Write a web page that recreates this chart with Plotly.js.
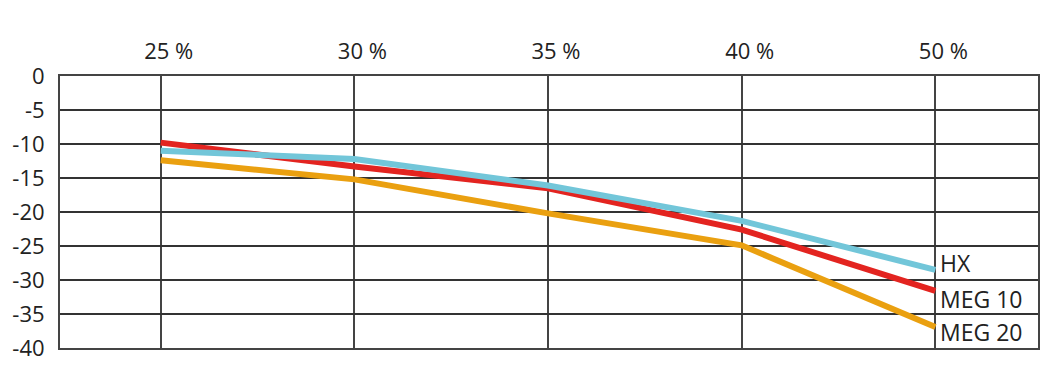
<!DOCTYPE html>
<html>
<head>
<meta charset="utf-8">
<script src="https://cdn.plot.ly/plotly-3.0.1.min.js"></script>
<style>html,body{margin:0;padding:0;background:#fff;}#chart{width:1051px;height:371px;}</style>
</head>
<body>
<div id="chart"></div>
<script>
const categories = ['25 %', '30 %', '35 %', '40 %', '50 %'];
const hx = [-11.0, -12.2, -16.1, -21.3, -28.5];
const meg10 = [-9.8, -13.3, -16.5, -22.6, -31.6];
const meg20 = [-12.4, -15.2, -20.2, -24.9, -36.9];
const seriesNames = ['HX', 'MEG 10', 'MEG 20'];
const yTicks = [0, -5, -10, -15, -20, -25, -30, -35, -40];

const colors = ['#72c6d9', '#e32420', '#eaa010'];
const series = [hx, meg10, meg20];
const labelShift = [7, -8, -5];
const FONT = '"Open Sans", sans-serif';

const traces = [meg20, meg10, hx].map((vals, i) => {
  const idx = 2 - i;
  return {
    x: categories, y: vals, type: 'scatter', mode: 'lines',
    name: seriesNames[idx],
    line: {color: colors[idx], width: 6},
    hoverinfo: 'skip'
  };
});

const annotations = series.map((vals, i) => ({
  x: categories[categories.length - 1], y: vals[vals.length - 1],
  xref: 'x', yref: 'y', text: seriesNames[i], showarrow: false,
  xanchor: 'left', yanchor: 'middle', xshift: 3, yshift: labelShift[i],
  font: {family: FONT, size: 23, color: '#222'}
}));

const layout = {
  width: 1051, height: 371,
  margin: {l: 60, r: 13, t: 76, b: 23},
  paper_bgcolor: '#fff', plot_bgcolor: '#fff',
  showlegend: false,
  font: {family: FONT, size: 22, color: '#222'},
  xaxis: {
    type: 'category', side: 'top', range: [-0.52, 4.53],
    showgrid: true, gridcolor: '#444', gridwidth: 2,
    showline: true, linecolor: '#444', linewidth: 2, mirror: true,
    ticks: '', ticklabelshift: 8, ticklabelstandoff: 6,
    tickfont: {family: FONT, size: 22, color: '#222'},
    zeroline: false, fixedrange: true
  },
  yaxis: {
    range: [-40, 0], tickvals: yTicks, ticktext: yTicks.map(String),
    showgrid: true, gridcolor: '#333', gridwidth: 2,
    showline: true, linecolor: '#444', linewidth: 2, mirror: true,
    ticks: '', ticklabelstandoff: 9,
    tickfont: {family: FONT, size: 22, color: '#222'},
    zeroline: false, fixedrange: true
  },
  annotations: annotations
};

Plotly.newPlot('chart', traces, layout, {displayModeBar: false, staticPlot: true});
</script>
</body>
</html>
